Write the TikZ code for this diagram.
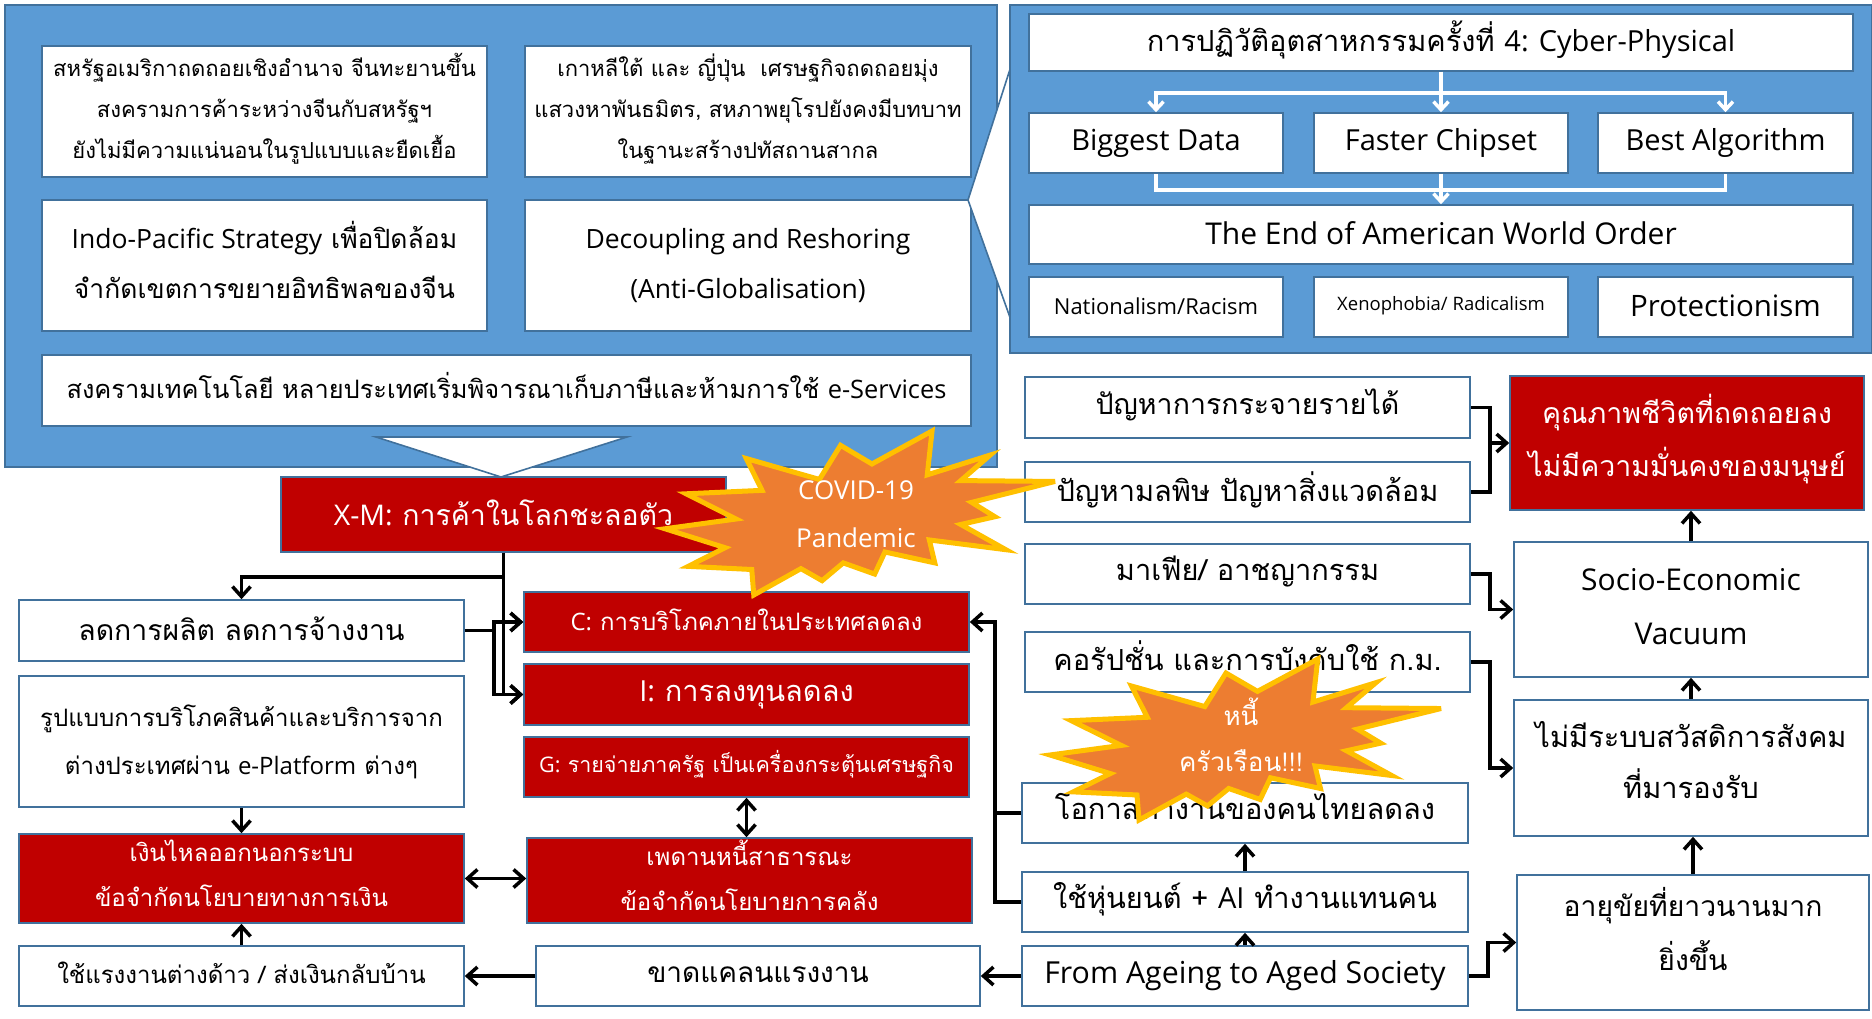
\documentclass[tikz,border=0pt]{standalone}
\usepackage{fontspec}
\setmainfont[Script=Thai]{Loma}
\newfontfamily\lat{Open Sans}
\usetikzlibrary{arrows.meta,calc}
\definecolor{pblue}{HTML}{5B9BD5}
\definecolor{bblue}{HTML}{41719C}
\definecolor{dred}{HTML}{C00000}
\definecolor{sorange}{HTML}{ED7D31}
\definecolor{sgold}{HTML}{FFC000}
\newcommand\fs[2]{\fontsize{#1}{#2}\selectfont}
% box with separately placed text: style, name, centre, width, height, font, raise, text
\newcommand\bxn[8]{\node[#1,wh={#4}{#5}] (#2) at #3 {};
  \node[txt,#1txt,font=#6] (#2t) at ([yshift=#7pt]#2.center) {#8};}
\newcommand\sealpath{(114.62,43.42) -- (147.90,0) -- (145.25,57.77) -- (180.07,31.72) -- (163.80,65.32) -- (216,66.45) -- (169.85,94.02) -- (182.70,112.90) -- (163.80,123.10) -- (188.77,156.32) -- (146.40,143.50) -- (149.42,173.70) -- (121.80,159.35) -- (116.12,188.42) -- (98.72,173.70) -- (87.00,197.12) -- (75.27,181.25) -- (49.17,216) -- (48.05,182.40) -- (12.85,178.25) -- (33.30,153.70) -- (0,128.77) -- (39.35,115.92) -- (11.72,82.70) -- (53.72,78.17) -- (45.02,36.25) -- (85.50,63.82) -- (97.22,18.87) -- cycle}
\begin{document}
\begin{tikzpicture}[x=1pt,y=-1pt,
  panel/.style={fill=pblue,draw=bblue,line width=2pt},
  box/.style={draw=bblue,line width=1.6pt,fill=white,inner sep=0pt},
  redbox/.style={box,fill=dred},
  txt/.style={align=center,inner sep=0pt},
  boxtxt/.style={text=black},
  redboxtxt/.style={text=white},
  wh/.style 2 args={minimum width=#1pt,minimum height=#2pt},
  conn/.style={line width=3.5pt,black},
  arr/.style={conn,-{Straight Barb[length=10pt,width=18pt]}},
  arrtwo/.style={conn,{Straight Barb[length=10pt,width=18pt]}-{Straight Barb[length=10pt,width=18pt]}},
  wline/.style={line width=3.5pt,white},
  warr/.style={wline,-{Straight Barb[length=8pt,width=15pt]}},
  seal/.style={fill=sorange,draw=sgold,line width=5pt,line join=miter,miter limit=6},
  sealtext/.style={text=white,align=center,inner sep=0pt}]
\useasboundingbox (0,0) rectangle (1872,1019);
% ---------- left panel ----------
\draw[panel] (5,5) rectangle (997,467);
\bxn{box}{a1}{(264.5,111.5)}{445}{131}{\fs{22}{41}}{3}{สหรัฐอเมริกาถดถอยเชิงอำนาจ จีนทะยานขึ้น\\สงครามการค้าระหว่างจีนกับสหรัฐฯ\\ยังไม่มีความแน่นอนในรูปแบบและยืดเยื้อ}
\bxn{box}{a2}{(748,111.5)}{446}{131}{\fs{22}{41}}{2}{เกาหลีใต้ และ ญี่ปุ่น\ \ เศรษฐกิจถดถอยมุ่ง\\แสวงหาพันธมิตร, สหภาพยุโรปยังคงมีบทบาท\\ในฐานะสร้างปทัสถานสากล}
\bxn{box}{a3}{(264.5,265.5)}{445}{131}{\fs{26.5}{50}}{6}{{\lat Indo-Pacific Strategy} เพื่อปิดล้อม\\จำกัดเขตการขยายอิทธิพลของจีน}
\bxn{box}{a4}{(748,265.5)}{446}{131}{\lat\fs{26.5}{50}}{0}{Decoupling and Reshoring\\(Anti-Globalisation)}
\bxn{box}{a5}{(506.5,390.5)}{929}{71}{\fs{25.4}{30}}{5}{สงครามเทคโนโลยี หลายประเทศเริ่มพิจารณาเก็บภาษีและห้ามการใช้ {\lat e-Services}}
\draw[fill=white,draw=bblue,line width=1.6pt] (376,437) -- (627,437) -- (501,477) -- cycle;
% ---------- callout triangle and right panel ----------
\draw[fill=white,draw=bblue,line width=1.6pt] (1012,63) -- (968,200) -- (1012,323);
\draw[panel] (1010,5) rectangle (1872,353);
\bxn{box}{r1}{(1441,42.5)}{824}{57}{\fs{29}{34}}{3}{การปฏิวัติอุตสาหกรรมครั้งที่ {\lat 4: Cyber-Physical}}
\bxn{box}{r2a}{(1156,143)}{254}{60}{\lat\fs{29}{34}}{0}{Biggest Data}
\bxn{box}{r2b}{(1441,143)}{254}{60}{\lat\fs{29}{34}}{0}{Faster Chipset}
\bxn{box}{r2c}{(1725.5,143)}{255}{60}{\lat\fs{29}{34}}{0}{Best Algorithm}
\bxn{box}{r3}{(1441,234.5)}{824}{59}{\lat\fs{30}{34}}{1}{The End of American World Order}
\bxn{box}{r4a}{(1156,307)}{254}{60}{\lat\fs{22}{26}}{1}{Nationalism/Racism}
\bxn{box}{r4b}{(1441,307)}{254}{60}{\lat\fs{18.5}{22}}{1}{Xenophobia/ Radicalism}
\bxn{box}{r4c}{(1725.5,307)}{255}{60}{\lat\fs{29.5}{34}}{1}{Protectionism}
\draw[warr] (r1.south) -- ++(0,21) -| (r2a.north);
\draw[warr] (r1.south) -- ++(0,21) -| (r2c.north);
\draw[warr] (r1.south) -- (r2b.north);
\draw[wline] (r2a.south) -- ++(0,16) -| (r2c.south);
\draw[warr] (r2b.south) -- (r3.north);
% ---------- lower left ----------
\bxn{redbox}{xm}{(503.5,514.5)}{445}{75}{\fs{28.5}{34}}{2}{{\lat X-M:} การค้าในโลกชะลอตัว}
\bxn{box}{l1}{(241.5,630.5)}{445}{61}{\fs{28.4}{34}}{2}{ลดการผลิต ลดการจ้างงาน}
\bxn{box}{l2}{(241.5,741.5)}{445}{131}{\fs{24}{48}}{0}{รูปแบบการบริโภคสินค้าและบริการจาก\\ต่างประเทศผ่าน {\lat e-Platform} ต่างๆ}
\bxn{redbox}{l3}{(241.5,878.5)}{445}{89}{\fs{24}{45}}{5}{เงินไหลออกนอกระบบ\\ข้อจำกัดนโยบายทางการเงิน}
\bxn{box}{l4}{(241.5,976)}{445}{60}{\fs{24}{30}}{3}{ใช้แรงงานต่างด้าว / ส่งเงินกลับบ้าน}
\bxn{redbox}{c}{(746.5,622)}{445}{60}{\fs{24}{28}}{2}{{\lat C:} การบริโภคภายในประเทศลดลง}
\bxn{redbox}{i}{(746.5,694.5)}{445}{61}{\fs{29}{34}}{0}{{\lat I:} การลงทุนลดลง}
\bxn{redbox}{g}{(746.5,767)}{445}{60}{\fs{21.5}{26}}{3}{{\lat G:} รายจ่ายภาครัฐ เป็นเครื่องกระตุ้นเศรษฐกิจ}
\bxn{redbox}{debt}{(749.5,880.5)}{445}{85}{\fs{24}{45}}{5}{เพดานหนี้สาธารณะ\\ข้อจำกัดนโยบายการคลัง}
\bxn{box}{lab}{(758,976)}{444}{60}{\fs{28}{34}}{1}{ขาดแคลนแรงงาน}
% ---------- middle right ----------
\bxn{box}{m1}{(1247.5,407.5)}{445}{61}{\fs{28.5}{34}}{3}{ปัญหาการกระจายรายได้}
\bxn{box}{m2}{(1247.5,492)}{445}{60}{\fs{29}{34}}{2}{ปัญหามลพิษ ปัญหาสิ่งแวดล้อม}
\bxn{box}{m3}{(1247.5,574)}{445}{60}{\fs{29}{34}}{2}{มาเฟีย/ อาชญากรรม}
\bxn{box}{m4}{(1247.5,662)}{445}{60}{\fs{29}{34}}{6}{คอรัปชั่น และการบังคับใช้ ก.ม.}
\bxn{box}{m5}{(1245,813)}{446}{60}{\fs{29}{34}}{6}{โอกาสทำงานของคนไทยลดลง}
\bxn{box}{m6}{(1245,902)}{446}{60}{\fs{29}{34}}{3}{ใช้หุ่นยนต์ + {\lat AI} ทำงานแทนคน}
\bxn{box}{m7}{(1245,976)}{446}{60}{\lat\fs{30.3}{34}}{0}{From Ageing to Aged Society}
\bxn{redbox}{q1}{(1687,443)}{354}{134}{\fs{28.5}{53}}{4}{คุณภาพชีวิตที่ถดถอยลง\\ไม่มีความมั่นคงของมนุษย์}
\bxn{box}{q2}{(1691,609.5)}{354}{135}{\lat\fs{30}{54}}{3}{Socio-Economic\\Vacuum}
\bxn{box}{q3}{(1691,768)}{354}{136}{\fs{29}{51}}{8}{ไม่มีระบบสวัสดิการสังคม\\ที่มารองรับ}
\bxn{box}{q4}{(1693,942.5)}{352}{135}{\fs{28.3}{54}}{13}{อายุขัยที่ยาวนานมาก\\ยิ่งขึ้น}
% ---------- connectors ----------
\draw[arr] (xm.south) -- ++(0,24) -| (l1.north);
\draw[arr] (xm.south) |- (c.west);
\draw[arr] (xm.south) |- (i.west);
\draw[arr] (l1.east) -- ++(29,0) |- (c.west);
\draw[arr] (l1.east) -- ++(29,0) |- (i.west);
\draw[arr] (l2.south) -- (l3.north);
\draw[arr] (l4.north) -- (l3.south);
\draw[arrtwo] (l3.east) -- (l3.east -| debt.west);
\draw[arrtwo] (g.south) -- (g.south |- debt.north);
\draw[arr] (lab.west) -- (l4.east);
\draw[arr] (m7.west) -- (lab.east);
\draw[conn] (m5.west) -- ++(-26,0);
\draw[arr] (m6.west) -- ++(-26,0) |- (c.east);
\draw[arr] (m6.north) -- (m5.south);
\draw[arr] (m7.north) -- (m6.south);
\draw[conn] (m1.east) -- ++(19,0) |- (m2.east);
\draw[arr] ([xshift=19pt]m1.east |- q1.west) -- (q1.west);
\draw[arr] (m3.east) -- ++(19,0) |- (q2.west);
\draw[arr] (m4.east) -- ++(19,0) |- (q3.west);
\draw[arr] (m7.east) -- ++(19,0) |- (q4.west);
\draw[arr] (q4.north) -- (q4.north |- q3.south);
\draw[arr] (q3.north) -- (q3.north |- q2.south);
\draw[arr] (q2.north) -- (q2.north |- q1.south);
% ---------- seals ----------
\begin{scope}[xshift=665pt,yshift=-431pt,x=1.8056pt,y=-0.7593pt]
\draw[seal] \sealpath;
\end{scope}
\node[sealtext,font={\lat\fs{26}{48}}] (covid) at (856,514) {COVID-19\\Pandemic};
\begin{scope}[xshift=1050pt,yshift=-659pt,x=1.8102pt,y=-0.7454pt]
\draw[seal] \sealpath;
\end{scope}
\node[sealtext,font=\fs{26}{46}] (debtseal) at (1241,735) {หนี้\\ครัวเรือน!!!};
\end{tikzpicture}
\end{document}
